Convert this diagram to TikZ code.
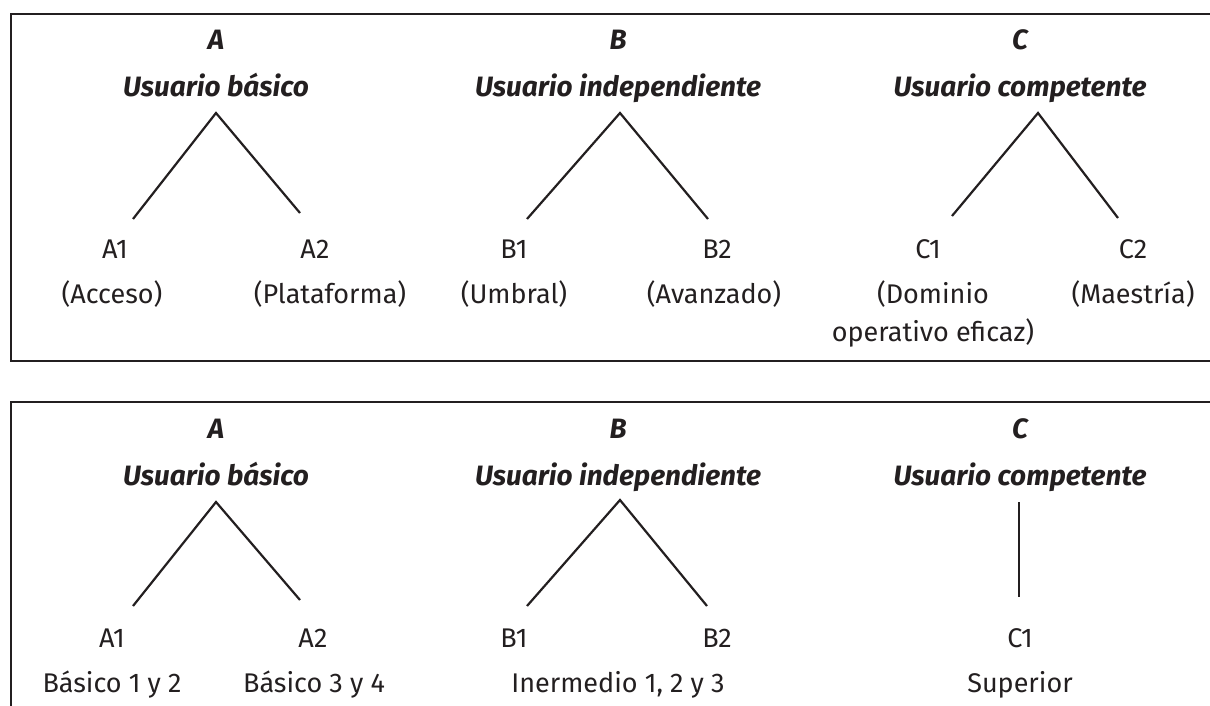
\documentclass[tikz,border=0pt]{standalone}
\usepackage{fontspec}
\setmainfont{Fira Sans}
\definecolor{ink}{HTML}{231F20}
\begin{document}
\begin{tikzpicture}[x=1pt,y=-1pt,
  frame/.style={line width=2.4pt, draw=ink},
  branch/.style={line width=2.2pt, draw=ink},
  head/.style={anchor=base, inner sep=0pt, text=ink, font=\fontsize{28}{32}\selectfont\bfseries\itshape},
  lvl/.style={anchor=base, inner sep=0pt, text=ink, font=\fontsize{27}{32}\selectfont},
  desc/.style={anchor=base, inner sep=0pt, text=ink, align=center, font=\fontsize{27}{38}\selectfont}]
\useasboundingbox (0,0) rectangle (1210,706);
% frames
\draw[frame] (1210,14) -- (11,14) -- (11,361) -- (1210,361);
\draw[frame] (11,706) -- (11,402) -- (1210,402);
% ---------- top section ----------
\node[head] (tA) at (216,50) {A};
\node[head] (tAu) at (216,97) {Usuario básico};
\node[head] (tB) at (618,50) {B};
\node[head] (tBu) at (618,97) {Usuario independiente};
\node[head] (tC) at (1020,50) {C};
\node[head] (tCu) at (1020,97) {Usuario competente};
\coordinate (tAtop) at (216,113);
\coordinate (tAl) at (133,219);
\coordinate (tAr) at (300,213);
\coordinate (tBtop) at (620,113);
\coordinate (tBl) at (527,219);
\coordinate (tBr) at (708,219);
\coordinate (tCtop) at (1038,113);
\coordinate (tCl) at (952,216);
\coordinate (tCr) at (1118,218);
\draw[branch] (tAl) -- (tAtop) -- (tAr);
\draw[branch] (tBl) -- (tBtop) -- (tBr);
\draw[branch] (tCl) -- (tCtop) -- (tCr);
\node[lvl] (tA1) at (115,258) {A1};
\node[lvl] (tA2) at (315,258) {A2};
\node[lvl] (tB1) at (514,258) {B1};
\node[lvl] (tB2) at (717,258) {B2};
\node[lvl] (tC1) at (928,258) {C1};
\node[lvl] (tC2) at (1133,258) {C2};
\node[desc] (tA1d) at (112,303) {(Acceso)};
\node[desc] (tA2d) at (330,303) {(Plataforma)};
\node[desc] (tB1d) at (514,303) {(Umbral)};
\node[desc] (tB2d) at (714,303) {(Avanzado)};
\node[desc] (tC1d) at (933,341) {(Dominio\\operativo eficaz)};
\node[desc] (tC2d) at (1133,303) {(Maestría)};
% ---------- bottom section ----------
\node[head] (bA) at (216,438) {A};
\node[head] (bAu) at (216,485) {Usuario básico};
\node[head] (bB) at (618,438) {B};
\node[head] (bBu) at (618,485) {Usuario independiente};
\node[head] (bC) at (1020,438) {C};
\node[head] (bCu) at (1020,485) {Usuario competente};
\coordinate (bAtop) at (216,502);
\coordinate (bAl) at (133,606);
\coordinate (bAr) at (300,600);
\coordinate (bBtop) at (620,500);
\coordinate (bBl) at (527,606);
\coordinate (bBr) at (707,606);
\coordinate (bCtop) at (1019,502);
\coordinate (bCbot) at (1019,597);
\draw[branch] (bAl) -- (bAtop) -- (bAr);
\draw[branch] (bBl) -- (bBtop) -- (bBr);
\draw[branch] (bCtop) -- (bCbot);
\node[lvl] (bA1) at (112,647) {A1};
\node[lvl] (bA2) at (313,647) {A2};
\node[lvl] (bB1) at (514,647) {B1};
\node[lvl] (bB2) at (717,647) {B2};
\node[lvl] (bC1) at (1020,647) {C1};
\node[desc] (bA1d) at (112,692) {Básico 1 y 2};
\node[desc] (bA2d) at (314,692) {Básico 3 y 4};
\node[desc] (bBd) at (618,692) {Inermedio 1, 2 y 3};
\node[desc] (bC1d) at (1020,692) {Superior};
\end{tikzpicture}
\end{document}
